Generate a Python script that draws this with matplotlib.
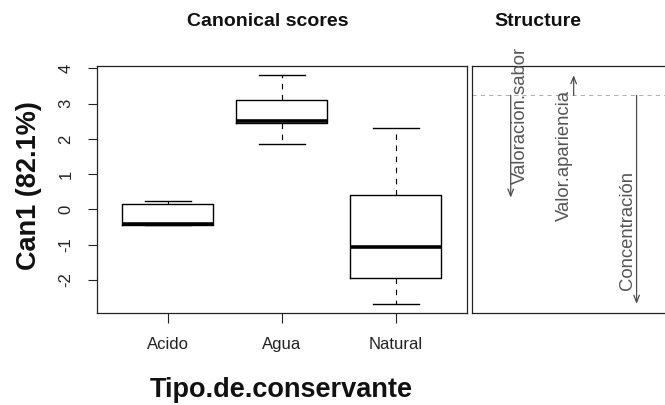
import matplotlib
matplotlib.use("Agg")
import matplotlib.pyplot as plt

plt.rcParams['font.family'] = ['Liberation Sans', 'DejaVu Sans']

# ---------------- data ----------------
groups = ["Acido", "Agua", "Natural"]
whisker_low = [-0.44, 1.85, -2.68]
q1 = [-0.44, 2.45, -1.96]
median = [-0.42, 2.51, -1.07]
q3 = [0.16, 3.11, 0.40]
whisker_high = [0.23, 3.81, 2.32]
y_ticks = [-2, -1, 0, 1, 2, 3, 4]

variables = ["Valoracion.sabor", "Valor.apariencia", "Concentración"]
structure = [-0.466, 0.092, -0.95]

y_label = "Can1 (82.1%)"
x_label = "Tipo.de.conservante"
title_left = "Canonical scores"
title_right = "Structure"

# ---------------- style / layout ----------------
W, H = 665, 405
fig = plt.figure(figsize=(W / 100, H / 100), dpi=100)

def frac(x0, y0, x1, y1):
    return [x0 / W, 1 - y1 / H, (x1 - x0) / W, (y1 - y0) / H]

ax = fig.add_axes(frac(97, 66, 466.5, 313))
ax2 = fig.add_axes(frac(471.7, 66, 675.6, 313))

stats = []
for g, lo, a, m, b, hi in zip(groups, whisker_low, q1, median, q3, whisker_high):
    stats.append(dict(label=g, whislo=lo, q1=a, med=m, q3=b, whishi=hi, fliers=[]))

pos = list(range(1, len(groups) + 1))
ax.bxp(stats, positions=pos, widths=0.8, showfliers=False, capwidths=0.4,
       boxprops=dict(color='black', lw=1.0),
       medianprops=dict(color='black', lw=2.6, solid_capstyle='butt'),
       whiskerprops=dict(color='black', lw=0.8, linestyle=(0, (5, 5))),
       capprops=dict(color='black', lw=1.0))

n = len(groups)
ax.set_xlim(0.5 - 0.04 * n, n + 0.5 + 0.04 * n)
ymin, ymax = min(whisker_low), max(whisker_high)
pad = 0.04 * (ymax - ymin)
ax.set_ylim(ymin - pad, ymax + pad)
ax.set_yticks(y_ticks)
ax.set_yticklabels([str(t) for t in y_ticks], rotation=90, va='center')
ax.set_xticks(pos)
ax.set_xticklabels(groups)
ax.tick_params(axis='y', length=6.5, width=0.8, pad=10.5, labelsize=12, colors='#222222')
ax.tick_params(axis='x', length=7, width=0.8, pad=10.5, labelsize=12, colors='#222222')
for sp in ax.spines.values():
    sp.set_linewidth(0.9)
    sp.set_color('#222222')

# right panel: structure
m = len(variables)
xs = list(range(1, m + 1))
ax2.set_xlim(0.5 - 0.04 * m, m + 0.5 + 0.04 * m)
smin, smax = min(structure), max(structure)
spad = 0.04 * (smax - smin)
ax2.set_ylim(smin - spad, smax + spad)
ax2.set_xticks([])
ax2.set_yticks([])
for sp in ax2.spines.values():
    sp.set_linewidth(0.9)
    sp.set_color('#222222')
ax2.axhline(0, color='#b0b0b0', lw=0.75, linestyle=(0, (4, 4)))

label_side = [1, -1, -1]
arrow_col = '#4d4d4d'
for x, v, name, side in zip(xs, structure, variables, label_side):
    ax2.annotate("", xy=(x, v), xytext=(x, 0),
                 arrowprops=dict(arrowstyle='->,head_length=0.5,head_width=0.2',
                                 color=arrow_col, lw=0.9, shrinkA=0, shrinkB=0))
    dy = 14 if v < 0 else -15
    ax2.annotate(name, xy=(x, v), xytext=(side * 9.3, dy), textcoords='offset pixels',
                 rotation=90, ha='center', va='bottom' if v < 0 else 'top',
                 fontsize=13.3, color='#555555', annotation_clip=False)

# titles / labels
fig.text(267.8 / W, 1 - 22 / H, title_left, ha='center', va='center',
         fontsize=14, fontweight='bold', color='#111111')
fig.text(537.7 / W, 1 - 22 / H, title_right, ha='center', va='center',
         fontsize=14, fontweight='bold', color='#111111')
fig.text(281.7 / W, 1 - 390 / H, x_label, ha='center', va='center',
         fontsize=19.5, fontweight='bold', color='#111111')
fig.text(29 / W, 1 - 186 / H, y_label, ha='center', va='center', rotation=90,
         fontsize=19.5, fontweight='bold', color='#111111')

fig.savefig("out.png", dpi=100)
